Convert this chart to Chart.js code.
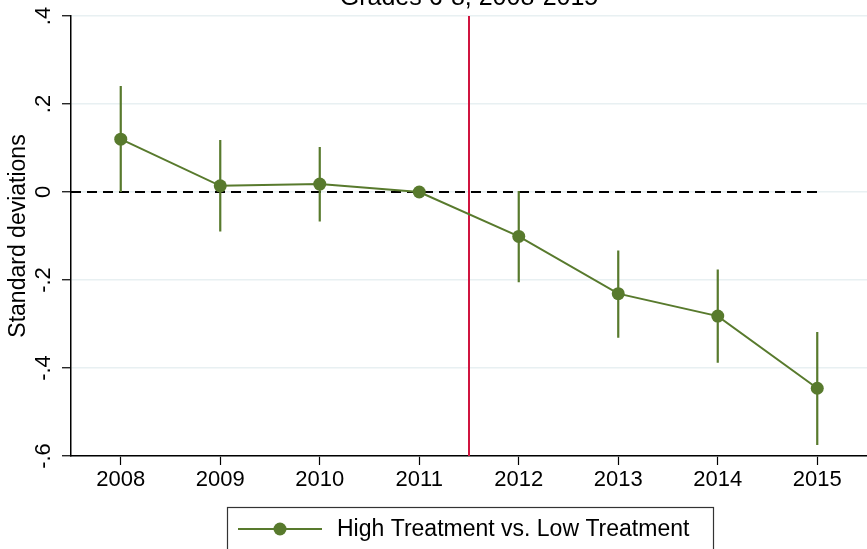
<!DOCTYPE html>
<html>
<head>
<meta charset="utf-8">
<script src="https://cdn.jsdelivr.net/npm/chart.js@4"></script>
<style>
  html, body { margin: 0; padding: 0; background: #fff; overflow: hidden; }
  canvas { display: block; }
</style>
</head>
<body>
<canvas id="chart" width="867" height="549"></canvas>
<script>
// event-study estimates, grades 6-8
const years = [2008, 2009, 2010, 2011, 2012, 2013, 2014, 2015];
const estimates = [0.12, 0.014, 0.018, 0, -0.101, -0.231, -0.282, -0.446];
const ciLower = [0.0, -0.090, -0.067, null, -0.205, -0.331, -0.388, -0.575];
const ciUpper = [0.241, 0.118, 0.102, null, 0.002, -0.133, -0.176, -0.318];
const yTicks = [-0.6, -0.4, -0.2, 0, 0.2, 0.4];
const yTickLabels = ['-.6', '-.4', '-.2', '0', '.2', '.4'];
const policyYear = 2011.5;
const seriesName = 'High Treatment vs. Low Treatment';
const titleText = 'Grades 6-8, 2008-2015';

const FONT = '"Liberation Sans", Arial, sans-serif';
const GREEN = '#587a2d';
const RED = '#d0143f';

// error bars as one broken line
const errorBars = [];
years.forEach((yr, i) => {
  if (ciLower[i] === null) return;
  errorBars.push({x: yr, y: ciLower[i]}, {x: yr, y: ciUpper[i]}, {x: yr, y: null});
});

const extras = {
  id: 'extras',
  afterDraw(chart) {
    const ctx = chart.ctx;
    const ys = chart.scales.y;
    const area = chart.chartArea;
    ctx.save();
    ctx.fillStyle = '#000';

    // y tick labels, rotated like Stata
    ctx.font = '22px ' + FONT;
    ctx.textAlign = 'center';
    ctx.textBaseline = 'middle';
    yTicks.forEach((v, i) => {
      ctx.save();
      ctx.translate(44, ys.getPixelForValue(v));
      ctx.rotate(-Math.PI / 2);
      ctx.fillText(yTickLabels[i], 0, 0);
      ctx.restore();
    });

    // title, partly off the top edge
    ctx.font = '25px ' + FONT;
    ctx.textBaseline = 'alphabetic';
    ctx.fillText(titleText, (area.left + area.right) / 2, 5);

    // legend box
    const bx = 227, by = 507, bw = 486, bh = 60;
    ctx.strokeStyle = '#333';
    ctx.lineWidth = 1.2;
    ctx.strokeRect(bx + 0.5, by + 0.5, bw, bh);
    const ly = 529;
    ctx.strokeStyle = GREEN;
    ctx.lineWidth = 2;
    ctx.beginPath();
    ctx.moveTo(238, ly);
    ctx.lineTo(322, ly);
    ctx.stroke();
    ctx.fillStyle = GREEN;
    ctx.beginPath();
    ctx.arc(280, ly, 6.5, 0, Math.PI * 2);
    ctx.fill();
    ctx.fillStyle = '#000';
    ctx.font = '23px ' + FONT;
    ctx.textAlign = 'left';
    ctx.textBaseline = 'middle';
    ctx.fillText(seriesName, 337, ly + 1);
    ctx.restore();
  }
};

new Chart(document.getElementById('chart'), {
  type: 'line',
  data: {
    datasets: [
      {
        label: seriesName,
        data: years.map((yr, i) => ({x: yr, y: estimates[i]})),
        borderColor: GREEN,
        backgroundColor: GREEN,
        borderWidth: 2,
        pointRadius: 6.5,
        pointBorderWidth: 0,
        tension: 0
      },
      {
        label: 'ci',
        data: errorBars,
        borderColor: GREEN,
        borderWidth: 2.2,
        pointRadius: 0,
        spanGaps: false
      },
      {
        label: 'zero',
        data: [{x: 2007.5, y: 0}, {x: 2015, y: 0}],
        borderColor: '#000',
        borderWidth: 2,
        borderDash: [10, 6],
        pointRadius: 0
      },
      {
        label: 'policy',
        data: [{x: policyYear, y: -0.6}, {x: policyYear, y: 0.4}],
        borderColor: RED,
        borderWidth: 2,
        pointRadius: 0
      }
    ]
  },
  options: {
    responsive: false,
    animation: false,
    layout: {autoPadding: false, padding: {top: 16, right: 0, bottom: 0, left: 0}},
    plugins: {
      legend: {display: false},
      tooltip: {enabled: false},
      title: {display: false}
    },
    scales: {
      x: {
        type: 'linear',
        min: 2007.5,
        max: 2015.5,
        afterBuildTicks: s => { s.ticks = years.map(v => ({value: v})); },
        afterFit: s => {
          s.height = 93;
          s.paddingLeft = 0;
          s.paddingRight = 0;
        },
        ticks: {
          color: '#000',
          font: {family: FONT, size: 22},
          padding: 2,
          maxRotation: 0,
          callback: v => String(v)
        },
        grid: {drawOnChartArea: false, tickColor: '#000', tickLength: 9, tickWidth: 1.2},
        border: {color: '#000', width: 1.5}
      },
      y: {
        min: -0.6,
        max: 0.4,
        afterBuildTicks: s => { s.ticks = yTicks.map(v => ({value: v})); },
        afterFit: s => {
          s.width = 71;
          s.paddingTop = 0;
          s.paddingBottom = 0;
        },
        ticks: {display: false},
        title: {
          display: true,
          text: 'Standard deviations',
          color: '#000',
          font: {family: FONT, size: 23},
          padding: {top: 5, bottom: 0}
        },
        grid: {color: '#e8f0f2', lineWidth: 1.5, tickColor: '#000', tickLength: 9, tickWidth: 1.2},
        border: {color: '#000', width: 1.5}
      }
    }
  },
  plugins: [extras]
});
</script>
</body>
</html>
